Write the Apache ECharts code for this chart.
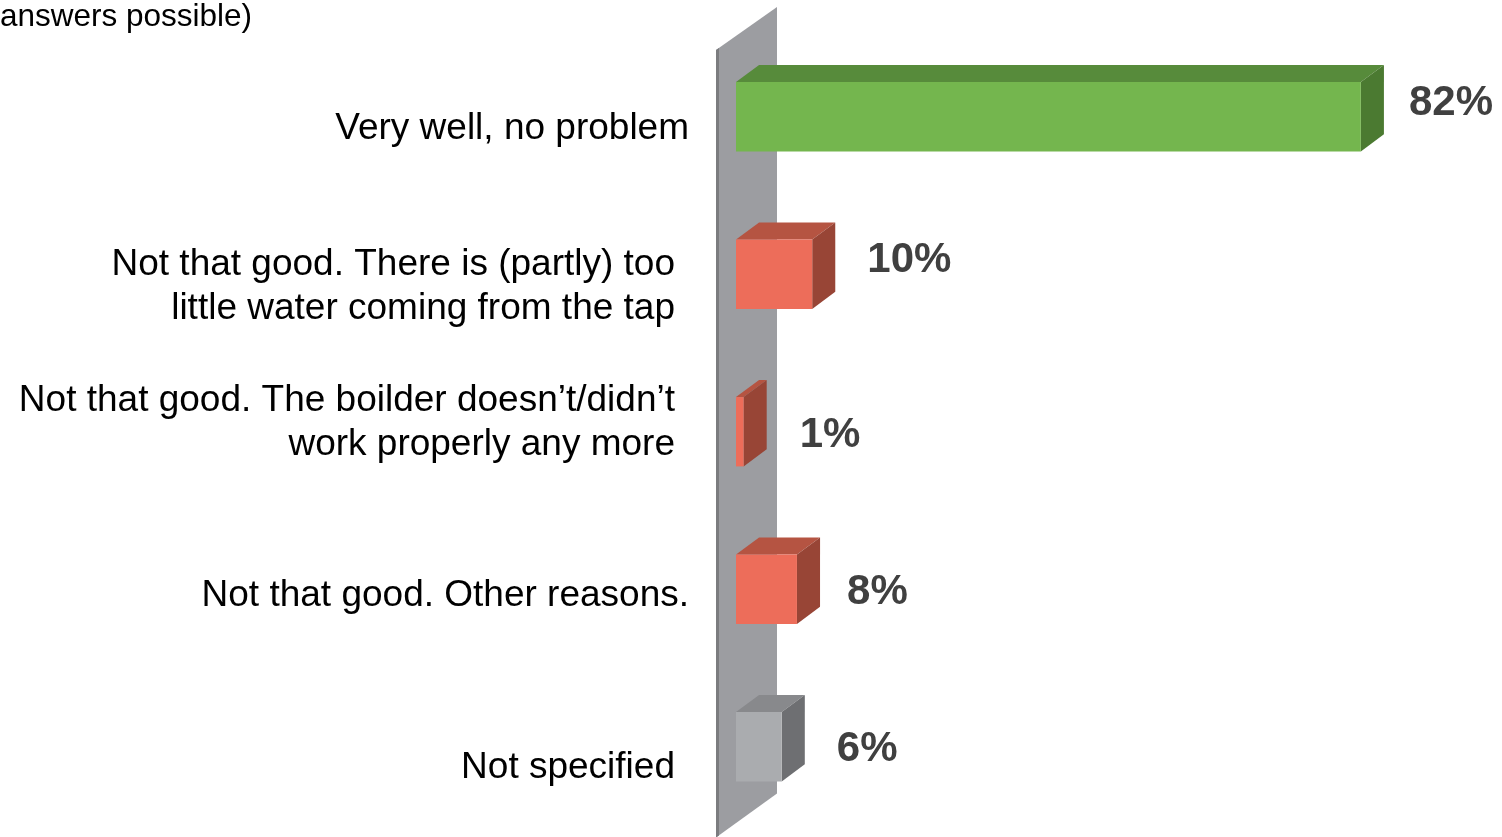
<!DOCTYPE html>
<html>
<head>
<meta charset="utf-8">
<script src="https://cdn.jsdelivr.net/npm/echarts@6/dist/echarts.min.js"></script>
<style>html,body{margin:0;padding:0;background:#fff;}#c{width:1502px;height:837px;}</style>
</head>
<body>
<div id="c"></div>
<script>
// ---- data ----
var titleText = 'answers possible)';
var categories = [
  'Very well, no problem',
  'Not that good. There is (partly) too\nlittle water coming from the tap',
  'Not that good. The boilder doesn\u2019t/didn\u2019t\nwork properly any more',
  'Not that good. Other reasons.',
  'Not specified'
];
var values = [82, 10, 1, 8, 6];
var kinds = ['good', 'bad', 'bad', 'bad', 'none'];

// ---- styles ----
var palette = {
  good: { front: '#74b64e', top: '#578b3b', side: '#4b7a31' },
  bad:  { front: '#ed6d5a', top: '#b55442', side: '#984536' },
  none: { front: '#aaacaf', top: '#88898c', side: '#6e6f72' }
};
// per-label nudges (px)
var catShift = [12, 13, -9, 7, 21];
var catPadRight = [0, 14, 14, 0, 14];
var valShiftY = [-13, -14, 4, 3, 3];
var valShiftX = [-5, 2, 3, -3, 2];

var chart = echarts.init(document.getElementById('c'), null, { renderer: 'canvas' });

var rich = {};
categories.forEach(function (c, i) {
  rich['t' + i] = { fontFamily: 'Liberation Sans', fontSize: 37, lineHeight: 44, color: '#000', padding: [0, catPadRight[i], 0, 0] };
  rich['s' + i] = { fontSize: 1, lineHeight: Math.abs(catShift[i]) * 2, height: Math.abs(catShift[i]) * 2 };
});

function renderWall(params, api) {
  var cs = params.coordSys;
  var x0 = api.coord([0, 0])[0];
  var L = x0 - 20, R = x0 + 41;
  var top = cs.y, bot = cs.y + cs.height;
  return {
    type: 'group',
    children: [
      { type: 'polygon', shape: { points: [[L, top + 12], [R, top - 31], [R, bot - 32], [L, bot + 12]] },
        style: { fill: '#9c9da1' } },
      { type: 'polygon', shape: { points: [[L, top + 12], [L + 3, top + 10], [L + 3, bot + 10], [L, bot + 12]] },
        style: { fill: '#7b7c7f' } }
    ]
  };
}

function renderBar(params, api) {
  var i = params.dataIndex;
  var v = api.value(0);
  var c = api.value(1);
  var p0 = api.coord([0, c]);
  var p1 = api.coord([v, c]);
  var bh = api.size([0, 1])[1] * 0.44;
  var dx = bh * 0.333, dy = bh * 0.246;
  var x0 = p0[0], x1 = p1[0];
  var t = p0[1] - bh / 2, b = p0[1] + bh / 2;
  var col = palette[kinds[i]];
  return {
    type: 'group',
    children: [
      { type: 'polygon', shape: { points: [[x0, t], [x0 + dx, t - dy], [x1 + dx, t - dy], [x1, t]] }, style: { fill: col.top } },
      { type: 'polygon', shape: { points: [[x1, t], [x1 + dx, t - dy], [x1 + dx, b - dy], [x1, b]] }, style: { fill: col.side } },
      { type: 'rect', shape: { x: x0, y: t, width: x1 - x0, height: bh }, style: { fill: col.front } },
      { type: 'text', style: {
          x: x1 + dx + 30 + valShiftX[i], y: p0[1] + valShiftY[i],
          text: v + '%', fill: '#404040',
          font: 'bold 42px "Liberation Sans", Arial, sans-serif',
          align: 'left', verticalAlign: 'middle' } }
    ]
  };
}

chart.setOption({
  animation: false,
  backgroundColor: '#ffffff',
  title: {
    text: titleText, left: 0, top: 1, padding: 0,
    textStyle: { fontFamily: 'Liberation Sans', fontSize: 31.5, fontWeight: 'normal', color: '#000' }
  },
  grid: { left: 736, top: 38, width: 762, height: 787.5 },
  xAxis: { type: 'value', min: 0, max: 100, show: false },
  yAxis: {
    type: 'category', data: categories, inverse: true,
    axisLine: { show: false }, axisTick: { show: false }, splitLine: { show: false },
    axisLabel: {
      margin: 47, align: 'right',
      formatter: function (val, idx) {
        var lines = val.split('\n').map(function (l) { return '{t' + idx + '|' + l + '}'; });
        var sh = catShift[idx];
        if (sh > 0) lines.unshift('{s' + idx + '| }');
        else if (sh < 0) lines.push('{s' + idx + '| }');
        return lines.join('\n');
      },
      rich: rich
    }
  },
  series: [
    { type: 'custom', name: 'wall', renderItem: renderWall, data: [[0, 0]], encode: { x: 0, y: 1 }, z: 1, silent: true },
    { type: 'custom', name: 'share', renderItem: renderBar, z: 2,
      data: values.map(function (v, i) { return [v, i]; }), encode: { x: 0, y: 1 } }
  ]
});
</script>
</body>
</html>
